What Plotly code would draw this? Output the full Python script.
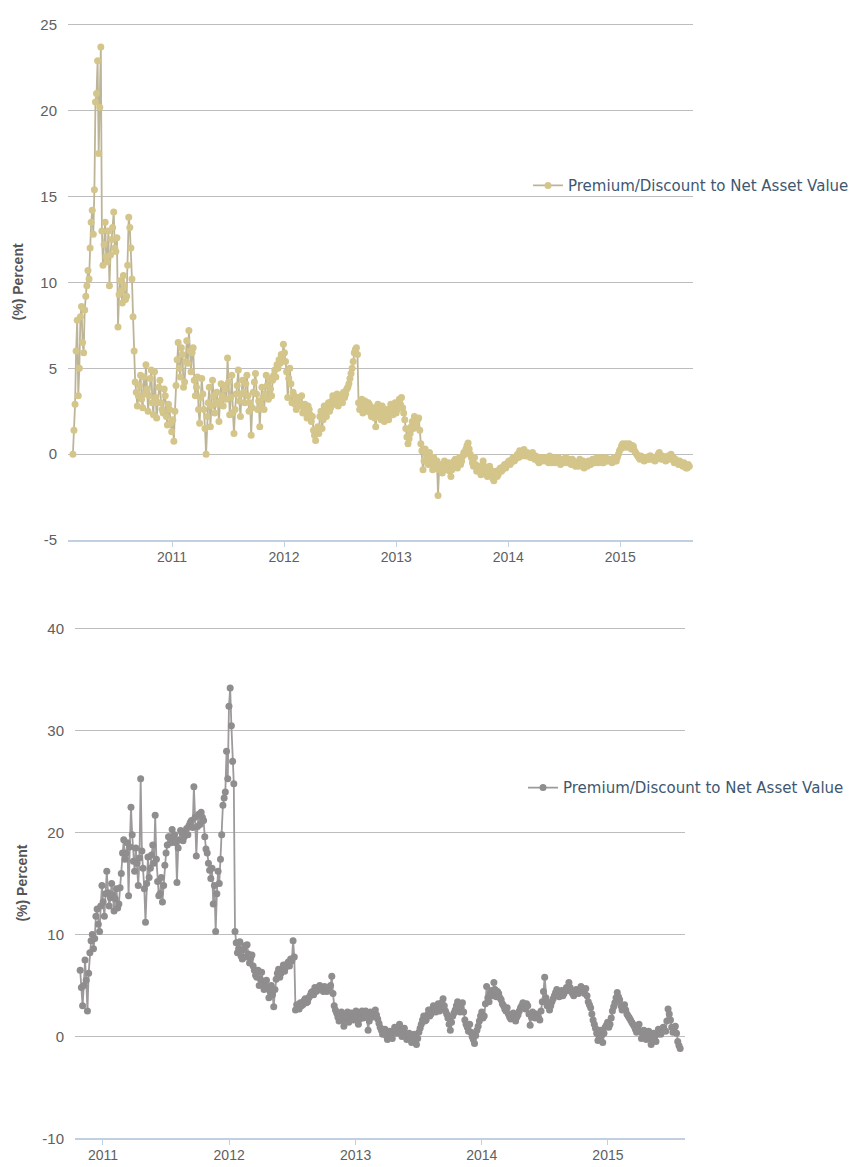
import pandas as pd
import plotly.graph_objects as go

# ---------------- data ----------------
series_name = "Premium/Discount to Net Asset Value"

# Top fund: readings every 3.5 days starting 2010-02-12
top_start = "2010-02-12"
top_values = [
    0.0, 1.4, 2.9, 6.0, 7.8, 3.4, 5.0, 8.0, 8.6, 6.5, 5.9, 8.4, 9.2, 9.8, 10.7, 10.2,
    12.0, 13.5, 14.2, 12.8, 15.4, 20.5, 21.0, 22.9, 17.5, 20.2, 23.7, 13.0, 11.0, 12.2,
    13.5, 11.5, 11.2, 13.0, 9.8, 11.6, 12.5, 13.2, 14.1, 12.0, 11.8, 12.6, 7.4, 9.3,
    10.1, 9.5, 8.8, 10.4, 9.8, 9.0, 9.2, 11.0, 13.8, 13.2, 12.0, 10.2, 8.0, 6.0, 4.2, 3.6,
    2.8, 3.4, 4.0, 4.6, 3.2, 2.7, 4.5, 3.5, 5.2, 3.8, 2.5, 3.4, 4.4, 4.9, 3.0, 2.3,
    4.8, 3.3, 2.1, 3.0, 3.9, 4.3, 3.0, 2.6, 2.4, 3.8, 3.4, 2.2, 1.7, 2.9, 2.6, 1.8,
    1.3, 2.0, 0.75, 2.5, 4.0, 5.5, 6.5, 5.0, 4.5, 6.2, 5.8, 3.9, 4.2, 5.4, 6.6, 5.3,
    7.2, 6.0, 4.8, 5.9, 6.2, 4.3, 3.4, 3.9, 4.5, 2.6, 1.8, 3.3, 4.4, 3.5, 2.6, 1.5,
    0.0, 2.2, 3.0, 3.9, 1.6, 2.8, 4.3, 3.4, 2.4, 3.0, 3.6, 2.9, 1.9, 3.1, 4.1, 3.4,
    2.8, 4.0, 3.8, 3.2, 5.6, 4.2, 2.3, 3.3, 4.6, 2.4, 1.2, 2.6, 3.5, 4.0, 4.9, 3.1,
    2.2, 3.5, 4.3, 3.6, 3.0, 4.1, 4.6, 3.4, 2.5, 3.0, 1.1, 2.7, 3.6, 4.2, 4.7, 3.5,
    2.6, 3.1, 1.6, 2.9, 3.9, 3.3, 2.6, 3.5, 4.6, 4.0, 3.2, 4.4, 3.8, 3.4, 4.3, 4.6,
    4.9, 4.5, 5.2, 5.0, 5.5, 5.3, 5.8, 5.6, 6.4, 5.9, 5.4, 4.8, 3.3, 4.4, 5.0, 4.1,
    3.0, 3.6, 3.4, 2.9, 2.6, 3.3, 3.2, 3.0, 2.8, 3.4, 2.4, 2.7, 2.9, 2.5, 2.1, 2.8,
    2.6, 2.3, 1.9, 2.2, 1.4, 1.1, 0.8, 1.3, 1.6, 1.2, 2.2, 2.5, 1.5, 2.0, 2.8, 2.4,
    2.2, 2.6, 3.0, 2.5, 2.7, 3.1, 3.4, 3.0, 2.9, 3.2, 3.5, 2.8, 3.1, 3.4, 3.3, 3.0,
    3.6, 3.3, 3.5, 3.8, 3.9, 4.1, 4.4, 4.7, 5.0, 5.4, 5.9, 6.1, 6.2, 5.8, 3.0, 2.6,
    2.8, 3.2, 2.4, 2.8, 3.1, 2.5, 2.6, 3.0, 2.9, 2.4, 2.2, 2.5, 2.7, 2.1, 1.6, 2.4,
    2.9, 2.6, 2.3, 2.0, 2.8, 2.3, 1.9, 2.5, 2.6, 2.2, 2.0, 2.6, 2.9, 2.5, 2.3, 2.7,
    3.0, 2.4, 2.6, 3.0, 3.2, 2.9, 3.3, 2.7, 2.4, 2.0, 1.5, 1.0, 0.6, 0.9, 1.2, 1.6,
    1.9, 1.5, 2.2, 1.9, 1.6, 2.0, 2.1, 1.4, 0.6, 0.2, -0.9, -0.4, 0.3, 0.0, -0.3, -0.6,
    0.1, -0.3, -0.5, -0.9, -0.2, -0.5, -0.8, -0.4, -2.4, -0.9, -0.6, -0.9, -1.1, -0.7,
    -0.4, -0.7, -0.9, -0.6, -0.5, -1.0, -1.3, -0.9, -0.6, -0.4, -0.3, -0.6, -0.8, -0.5,
    -0.2, -0.6, -0.4, -0.1, 0.1, 0.0, 0.3, 0.5, 0.65, 0.3, 0.0, -0.2, -0.5, -0.7,
    -0.2, -0.6, -1.0, -0.8, -0.7, -1.0, -1.2, -0.8, -0.4, -0.7, -0.9, -1.1, -1.3, -1.0,
    -0.7, -0.9, -1.2, -1.4, -1.55, -1.2, -1.0, -1.3, -1.2, -0.9, -0.8, -1.0, -0.9, -0.7,
    -0.6, -0.8, -0.7, -0.5, -0.4, -0.6, -0.5, -0.3, -0.2, -0.4, -0.3, -0.1, 0.0, -0.2,
    0.2, 0.0, -0.1, 0.1, 0.27, 0.05, -0.1, 0.1, 0.0, -0.1, -0.2, 0.0, 0.1, -0.1,
    -0.3, -0.1, -0.2, -0.4, -0.5, -0.2, -0.3, -0.4, -0.2, -0.3, -0.4, -0.2, -0.3, -0.5,
    -0.1, -0.3, -0.5, -0.2, -0.3, -0.5, -0.4, -0.3, -0.2, -0.4, -0.6, -0.4, -0.3, -0.5,
    -0.4, -0.2, -0.5, -0.4, -0.3, -0.5, -0.6, -0.3, -0.4, -0.6, -0.7, -0.5, -0.5, -0.7,
    -0.3, -0.5, -0.6, -0.4, -0.8, -0.6, -0.5, -0.7, -0.4, -0.6, -0.6, -0.4, -0.3, -0.5,
    -0.5, -0.3, -0.2, -0.5, -0.4, -0.2, -0.3, -0.5, -0.5, -0.3, -0.2, -0.4, -0.4, -0.3,
    -0.3, -0.4, -0.5, -0.3, -0.2, -0.4, -0.4, -0.2, 0.0, 0.2, 0.3, 0.5, 0.6, 0.4,
    0.5, 0.6, 0.4, 0.5, 0.6, 0.4, 0.3, 0.5, 0.45, 0.2, 0.1, 0.0, -0.1, -0.2,
    -0.3, -0.1, -0.2, -0.3, -0.4, -0.2, -0.2, -0.3, -0.3, -0.1, -0.1, -0.3, -0.3, -0.2,
    -0.4, -0.3, -0.2, 0.0, 0.1, -0.1, -0.3, -0.1, -0.2, -0.3, -0.4, -0.2, -0.1, -0.3,
    -0.2, 0.0, -0.3, -0.2, -0.5, -0.3, -0.4, -0.5, -0.6, -0.4, -0.5, -0.6, -0.7, -0.5,
    -0.6, -0.8, -0.8, -0.6, -0.7,
]

# Bottom fund: readings every 3.5 days starting 2010-10-27
bottom_start = "2010-10-27"
bottom_values = [
    6.5, 4.8, 3.0, 5.0, 7.5, 5.5, 2.5, 6.2, 8.2, 9.4, 10.0, 8.6, 9.6, 11.8, 12.5, 11.0,
    10.3, 12.8, 14.8, 13.2, 11.8, 14.0, 16.2, 14.1, 12.8, 13.6, 15.0, 13.9, 12.3, 13.5,
    14.5, 12.6, 13.0, 14.6, 16.0, 18.0, 19.3, 17.4, 18.0, 19.0, 13.8, 18.6, 22.5, 19.8,
    17.2, 16.2, 18.5, 17.0, 14.8, 17.5, 25.3, 18.2, 16.5, 14.5, 11.2, 15.0, 17.6, 15.6,
    16.5, 17.8, 18.8, 17.0, 21.7, 17.4, 15.2, 13.8, 14.0, 15.6, 13.2, 14.8, 16.8, 18.0,
    18.8, 19.6, 19.6, 19.0, 20.3, 19.4, 19.8, 19.0, 15.1, 18.5, 19.3, 20.2, 20.0, 19.2,
    19.6, 20.0, 20.4, 19.8, 20.7, 21.0, 21.2, 20.5, 24.5, 21.5, 17.7, 20.6, 21.8, 20.8,
    22.0, 21.5, 21.2, 19.6, 18.4, 18.0, 17.0, 16.3, 15.5, 16.5, 13.0, 14.8, 10.3, 14.0,
    16.2, 15.0, 17.4, 19.8, 22.7, 23.4, 24.0, 28.0, 25.3, 32.4, 34.2, 30.5, 27.0, 24.8,
    10.3, 9.2, 8.2, 8.6, 9.3, 7.9, 7.6, 8.5, 8.9, 7.8, 9.0, 8.1, 7.2, 7.7, 8.0, 6.9,
    6.5, 6.0, 5.8, 6.5, 5.0, 5.6, 6.3, 5.3, 4.6, 5.1, 5.5, 4.7, 3.8, 4.4, 5.0, 4.1,
    2.9, 4.6, 5.6, 6.2, 6.6, 5.8, 6.2, 6.6, 7.0, 6.4, 6.8, 7.1, 7.3, 6.9, 7.6, 7.4,
    9.4, 7.8, 2.6, 3.1, 2.9, 2.7, 3.3, 3.0, 3.1, 3.5, 3.7, 3.3, 3.4, 3.8, 4.0, 4.3,
    4.4, 4.1, 4.8, 4.4, 4.5, 4.8, 5.0, 4.7, 4.6, 4.4, 4.9, 4.5, 4.4, 4.7, 4.8, 5.0,
    5.9, 4.2, 3.0, 2.6, 2.3, 1.9, 1.5, 2.0, 2.4, 1.6, 1.0, 1.7, 2.0, 2.4, 1.4, 1.9,
    2.3, 1.8, 1.6, 2.2, 2.5, 2.0, 1.2, 1.7, 2.2, 2.5, 1.8, 2.1, 2.5, 2.0, 0.6, 1.5,
    2.4, 2.0, 1.9, 2.3, 2.6, 2.1, 1.7, 1.3, 0.9, 0.6, 0.2, 0.5, 0.7, 0.1, -0.3, 0.2,
    0.5, 0.0, -0.2, 0.4, 0.9, 0.5, 0.3, 0.8, 1.2, 0.5, 0.0, 0.4, 0.8, 0.2, -0.3, 0.1,
    0.3, -0.2, -0.6, 0.0, 0.2, -0.4, -0.8, -0.2, 0.4, 0.8, 1.2, 1.6, 2.0, 1.5,
    1.6, 2.1, 2.6, 2.0, 2.2, 2.7, 3.0, 2.6, 2.4, 2.9, 3.2, 2.5, 2.8, 3.3, 3.7, 3.0,
    2.5, 2.2, 1.8, 1.2, 0.6, 1.4, 2.0, 2.3, 2.6, 3.0, 3.4, 2.9, 2.4, 2.8, 3.3, 2.4,
    1.6, 1.2, 0.9, 0.5, 1.2, 0.4, 0.0, -0.3, -0.7, 0.1, 0.6, 1.0, 1.5, 2.0, 2.4, 1.8,
    2.0, 3.2, 4.9, 3.8, 3.4, 4.2, 4.5, 4.0, 5.3, 4.6, 3.9, 4.4, 4.2, 3.8, 3.6, 3.2,
    3.0, 2.7, 2.5, 2.8, 2.2, 1.9, 1.7, 2.0, 2.3, 1.8, 1.5, 1.9, 2.1, 2.5, 2.8, 3.0,
    3.3, 2.9, 2.7, 3.2, 3.0, 2.2, 1.1, 1.9, 2.4, 2.0, 1.8, 2.2, 2.0, 1.8, 1.6, 2.5,
    3.4, 4.4, 5.8, 3.8, 3.0, 3.3, 2.6, 3.0, 3.4, 3.7, 4.0, 4.3, 4.6, 4.2, 3.9, 4.3,
    4.5, 4.0, 4.2, 4.5, 4.8, 4.5, 5.3, 4.8, 4.4, 4.2, 4.0, 4.3, 4.6, 4.4, 4.2, 4.6,
    4.9, 4.7, 4.5, 4.2, 4.7, 4.0, 3.4, 3.1, 2.8, 2.2, 1.6, 1.2, 0.8, 0.3, -0.4, 0.0,
    0.6, 0.1, -0.6, 0.3, 0.9, 1.1, 1.4, 0.9, 1.2, 1.8, 2.5, 2.9, 3.3, 3.8, 4.3, 3.9,
    3.6, 3.0, 2.6, 2.9, 3.1, 2.6, 2.2, 2.0, 1.8, 1.6, 1.4, 1.2, 1.0, 0.7, 0.4, 0.9,
    1.2, 0.5, -0.2, 0.2, 0.6, 0.1, -0.3, 0.2, 0.5, -0.2, -0.8, -0.1, 0.3, 0.0,
    -0.5, 0.2, 0.7, 0.4, 0.2, 0.6, 0.9, 0.6, 0.5, 1.5, 2.7, 2.2, 1.6, 0.9, 0.4, 0.8,
    1.0, 0.3, -0.5, -0.9, -1.2,
]

top_dates = pd.date_range(top_start, periods=len(top_values), freq="84h")
bottom_dates = pd.date_range(bottom_start, periods=len(bottom_values), freq="84h")

top_ticks = [25, 20, 15, 10, 5, 0, -5]
top_tick_labels = ["25", "20", "15", "10", "5", "0", "-5"]
bottom_ticks = [40, 30, 20, 10, 0, -10]
bottom_tick_labels = ["40", "30", "20", "10", "0", "-10"]

# ---------------- styling ----------------
W, H = 855, 1167
gold = "#D4C58A"
gold_line = "#BDB597"
grey = "#8F8D8D"
grey_line = "#9C9A9A"
font_family = "Liberation Sans, Arial, sans-serif"
legend_family = "DejaVu Sans, Verdana, sans-serif"
tick_color = "#606060"

fig = go.Figure()
fig.add_trace(go.Scatter(
    x=top_dates, y=top_values, mode="lines+markers", name=series_name,
    line=dict(color=gold_line, width=1.8),
    marker=dict(color=gold, size=7),
    xaxis="x", yaxis="y", legend="legend",
))
fig.add_trace(go.Scatter(
    x=bottom_dates, y=bottom_values, mode="lines+markers", name=series_name,
    line=dict(color=grey_line, width=1.8),
    marker=dict(color=grey, size=7),
    xaxis="x2", yaxis="y2", legend="legend2",
))

def px_x(p):
    return p / W

def px_y(p):
    return 1 - p / H

common_x = dict(
    type="date", showgrid=False, showline=True, linecolor="#C0D0E0", linewidth=1.5,
    ticks="outside", ticklen=5, tickcolor="#C0D0E0", tickformat="%Y",
    dtick="M12", tick0="2011-01-01", ticklabelstandoff=-2,
    tickfont=dict(family=font_family, size=14, color=tick_color),
    zeroline=False,
)
common_y = dict(
    showgrid=True, gridcolor="#BDBDBD", gridwidth=1, zeroline=False,
    showline=False, ticks="", ticklabelstandoff=10,
    tickfont=dict(family=font_family, size=15, color=tick_color),
)

# small headroom above the top tick so its gridline is drawn
top_extra = 2 / 17.4
bot_extra = 2 / 10.33

fig.update_layout(
    width=W, height=H,
    margin=dict(l=0, r=0, t=0, b=0),
    paper_bgcolor="white", plot_bgcolor="white",
    xaxis=dict(common_x, domain=[px_x(68), px_x(693)], anchor="y",
               range=["2010-01-27", "2015-08-26"]),
    yaxis=dict(common_y, domain=[px_y(540), px_y(16)], anchor="x",
               range=[-5, 25 + top_extra], tickvals=top_ticks,
               ticktext=top_tick_labels),
    xaxis2=dict(common_x, domain=[px_x(75), px_x(685)], anchor="y2",
                range=["2010-10-12", "2015-08-12"]),
    yaxis2=dict(common_y, domain=[px_y(1146), px_y(628)], anchor="x2",
                range=[-10, 40 + bot_extra], tickvals=bottom_ticks,
                ticktext=bottom_tick_labels),
    legend=dict(x=px_x(528), y=px_y(181), xanchor="left", yanchor="middle",
                bgcolor="rgba(0,0,0,0)",
                font=dict(family=legend_family, size=15, color="#3E576F")),
    legend2=dict(x=px_x(523), y=px_y(791), xanchor="left", yanchor="middle",
                 bgcolor="rgba(0,0,0,0)",
                 font=dict(family=legend_family, size=15, color="#3E576F")),
    showlegend=True,
)

for ycenter, xcenter in ((279, 18), (888, 22)):
    fig.add_annotation(
        text="<b>(%) Percent</b>", textangle=-90, showarrow=False,
        xref="paper", yref="paper", x=px_x(xcenter), y=px_y(ycenter),
        xanchor="center", yanchor="middle",
        font=dict(family=font_family, size=14, color="#555555"),
    )

fig.write_html("out.html")
